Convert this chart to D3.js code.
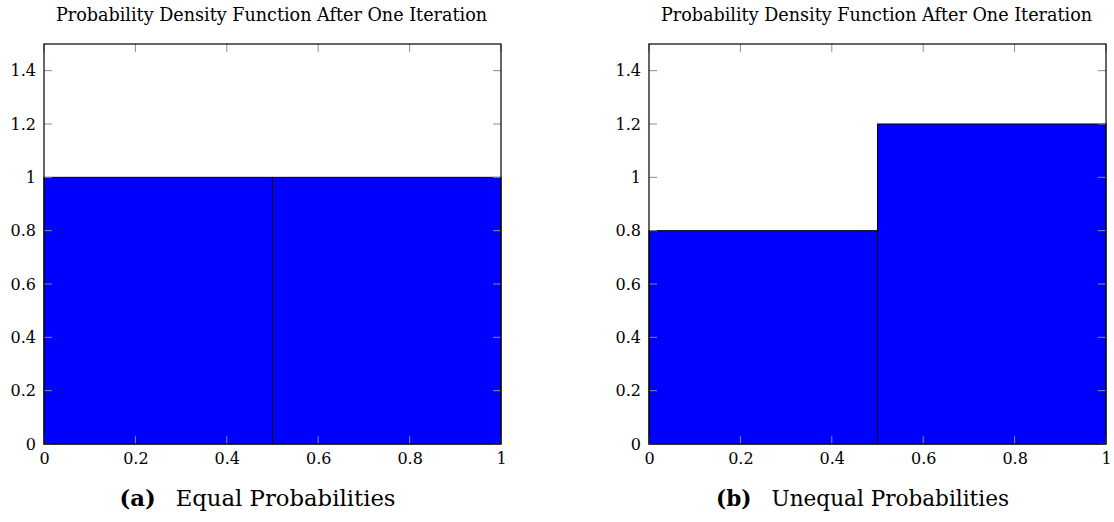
<!DOCTYPE html>
<html>
<head>
<meta charset="utf-8">
<script src="https://cdn.jsdelivr.net/npm/d3@7"></script>
<style>
  body { margin: 0; background: #fff; }
  svg { display: block; font-family: "DejaVu Serif", serif; }
</style>
</head>
<body>
<svg width="1114" height="522"></svg>
<script>
// bins of the histogram (left and right edges)
const binEdges = [[0, 0.5], [0.5, 1]]
const equalValues = [1, 1]
const unequalValues = [0.8, 1.2]
const xTicks = [0, 0.2, 0.4, 0.6, 0.8, 1]
const yTicks = [0, 0.2, 0.4, 0.6, 0.8, 1, 1.2, 1.4]
const titleText = "Probability Density Function After One Iteration"
const captions = [
    { tag: "(a)", text: "Equal Probabilities" },
    { tag: "(b)", text: "Unequal Probabilities" }
]

const svg = d3.select("svg")

const panels = [
    { left: 44, values: equalValues, caption: captions[0], capWidth: 276 },
    { left: 649, values: unequalValues, caption: captions[1], capWidth: 293 }
]

const innerWidth = 457
const innerHeight = 400
const marginTop = 44

// maak een tekst zo groot dat hij de gewenste breedte heeft
function fitWidth(textSel, target) {
    for (let i = 0; i < 3; i++) {
        const fs = +textSel.attr("font-size")
        const w = textSel.node().getBBox().width
        textSel.attr("font-size", fs * target / w)
    }
}

panels.forEach(p => {
    const g = svg.append("g").attr("transform", `translate(${p.left},${marginTop})`)

    const xScale = d3.scaleLinear().domain([0, 1]).range([0, innerWidth])
    const yScale = d3.scaleLinear().domain([0, 1.5]).range([innerHeight, 0])

    const data = binEdges.map((b, i) => ({ x0: b[0], x1: b[1], v: p.values[i] }))

    // de balken
    g.selectAll("rect.bar")
        .data(data)
        .enter()
        .append("rect")
        .attr("class", "bar")
        .attr("x", d => xScale(d.x0))
        .attr("y", d => yScale(d.v))
        .attr("width", d => xScale(d.x1) - xScale(d.x0))
        .attr("height", d => yScale(0) - yScale(d.v))
        .attr("fill", "#0000ff")
        .attr("stroke", "#000")
        .attr("stroke-width", 1)

    // ticks naar binnen aan alle vier kanten
    const tickLen = 8
    const tickColor = "#8a8a8a"
    const tg = g.append("g")
    xTicks.forEach(t => {
        tg.append("line").attr("x1", xScale(t)).attr("x2", xScale(t))
            .attr("y1", innerHeight).attr("y2", innerHeight - tickLen)
            .attr("stroke", tickColor)
        tg.append("line").attr("x1", xScale(t)).attr("x2", xScale(t))
            .attr("y1", 0).attr("y2", tickLen)
            .attr("stroke", tickColor)
    })
    yTicks.forEach(t => {
        tg.append("line").attr("x1", 0).attr("x2", tickLen)
            .attr("y1", yScale(t)).attr("y2", yScale(t))
            .attr("stroke", tickColor)
        tg.append("line").attr("x1", innerWidth).attr("x2", innerWidth - tickLen)
            .attr("y1", yScale(t)).attr("y2", yScale(t))
            .attr("stroke", tickColor)
    })

    // kader
    g.append("rect")
        .attr("width", innerWidth)
        .attr("height", innerHeight)
        .attr("fill", "none")
        .attr("stroke", "#000")
        .attr("stroke-width", 1.2)

    // labels van de assen
    const xAxis = d3.axisBottom(xScale).tickValues(xTicks).tickSize(0).tickPadding(9)
        .tickFormat(d3.format("~g"))
    const yAxis = d3.axisLeft(yScale).tickValues(yTicks).tickSize(0).tickPadding(8)
        .tickFormat(d3.format("~g"))

    const gx = g.append("g").attr("transform", `translate(0,${innerHeight})`).call(xAxis)
    const gy = g.append("g").call(yAxis)
    ;[gx, gy].forEach(a => {
        a.select(".domain").remove()
        a.attr("font-family", null).attr("font-size", 16)
        a.selectAll("text").attr("fill", "#000")
    })

    // titel
    const title = g.append("text")
        .attr("x", innerWidth / 2 - 1)
        .attr("y", -23)
        .attr("text-anchor", "middle")
        .attr("font-size", 14)
        .text(titleText)
    fitWidth(title, 431)

    // onderschrift
    const cap = g.append("text")
        .attr("x", innerWidth / 2 - 15)
        .attr("y", 462)
        .attr("text-anchor", "middle")
        .attr("font-size", 17)
    cap.append("tspan").attr("font-weight", "bold").text(p.caption.tag)
    cap.append("tspan").attr("dx", 20).text(p.caption.text)
    fitWidth(cap, p.capWidth)
})
</script>
</body>
</html>
